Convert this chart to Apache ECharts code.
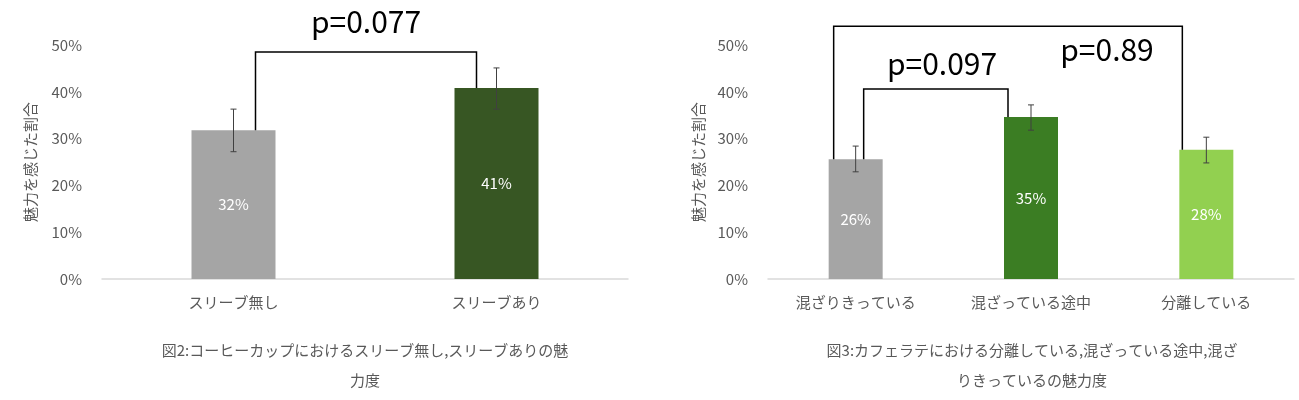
<!DOCTYPE html><html><head><meta charset="utf-8">
<script src="https://cdn.jsdelivr.net/npm/echarts@6/dist/echarts.min.js"></script>
<style>body{margin:0;background:#fff}#c{width:1299px;height:400px}</style></head><body><div id="c"></div>
<script>
const cats1=['スリーブ無し','スリーブあり'];
const vals1=[31.8,40.8];
const errLo1=[27.2,36.3], errHi1=[36.3,45.1];
const cats2=['混ざりきっている','混ざっている途中','分離している'];
const vals2=[25.6,34.6,27.6];
const errLo2=[22.9,31.8,24.8], errHi2=[28.4,37.2,30.3];
const yTicks=[0,10,20,30,40,50];
// brackets: [gridIdx, catA, catB, topValue, text]
const brackets=[[0,0,1,48.5,'p=0.077'],[1,0,2,54,'p=0.89'],[1,0,1,40.6,'p=0.097']];
const F='"Noto Sans CJK JP","Noto Sans",sans-serif';
const gray='#595959';
const chart=echarts.init(document.getElementById('c'));
function errSeries(xi,lo,hi){return {type:'custom',xAxisIndex:xi,yAxisIndex:xi,silent:true,z:5,
 data:lo.map((l,i)=>[i,l,hi[i]]),
 renderItem:(p,api)=>{const a=api.coord([api.value(0),api.value(1)]),b=api.coord([api.value(0),api.value(2)]);
  const s={stroke:'#404040',lineWidth:1};
  return {type:'group',children:[{type:'line',shape:{x1:a[0],y1:a[1],x2:b[0],y2:b[1]},style:s},
  {type:'line',shape:{x1:a[0]-3,y1:a[1],x2:a[0]+3,y2:a[1]},style:s},
  {type:'line',shape:{x1:b[0]-3,y1:b[1],x2:b[0]+3,y2:b[1]},style:s}]};}};}
const yAx=i=>({type:'value',gridIndex:i,min:0,max:50,interval:10,splitLine:{show:false},
 axisLabel:{formatter:v=>v+'%',color:gray,fontSize:15,fontFamily:F,margin:20},
 name:'魅力を感じた割合',nameLocation:'middle',nameRotate:90,nameGap:i?62:64,nameTextStyle:{color:gray,fontSize:15,fontFamily:F}});
const xAx=(i,c)=>({type:'category',gridIndex:i,data:c,axisTick:{show:false},axisLine:{lineStyle:{color:'#D9D9D9',width:1.5}},
 axisLabel:{color:gray,fontSize:15,fontFamily:F,margin:16}});
const lbl={show:true,position:'inside',color:'#fff',fontSize:15,fontFamily:F,formatter:p=>Math.round(p.value)+'%'};
chart.setOption({animation:false,
 grid:[{left:102,width:526,top:45,bottom:121},{left:768,width:526,top:45,bottom:121}],
 xAxis:[xAx(0,cats1),xAx(1,cats2)],yAxis:[yAx(0),yAx(1)],
 series:[
  {type:'bar',xAxisIndex:0,yAxisIndex:0,barWidth:84,label:lbl,
   data:vals1.map((v,i)=>({value:v,itemStyle:{color:['#A5A5A5','#375623'][i]}}))},
  {type:'bar',xAxisIndex:1,yAxisIndex:1,barWidth:54,label:lbl,
   data:vals2.map((v,i)=>({value:v,itemStyle:{color:['#A5A5A5','#3B7D23','#92D050'][i]}}))},
  errSeries(0,errLo1,errHi1),errSeries(1,errLo2,errHi2)]});
const els=[];
const offs={'0,0':[22,0],'0,1':[-20,0],'1,0':[-22,0],'1,2':[-24,0],'1,1':[-23,0]};
brackets.forEach(([g,a,b,top,t],k)=>{
 const vals=g?vals2:vals1;
 const inner=k===2;
 const xa=chart.convertToPixel({gridIndex:g},[a,0])[0]+(g===0?22:(inner?8:-22));
 const xb=chart.convertToPixel({gridIndex:g},[b,0])[0]+(g===0?-20:(inner?-23:-24));
 const yt=chart.convertToPixel({gridIndex:g},[0,top])[1];
 const ya=chart.convertToPixel({gridIndex:g},[0,vals[a]])[1];
 const yb=chart.convertToPixel({gridIndex:g},[0,vals[b]])[1];
 els.push({type:'polyline',shape:{points:[[xa,ya],[xa,yt],[xb,yt],[xb,yb]]},style:{stroke:'#000',lineWidth:1.5,fill:null},z:10});
 let tx=(xa+xb)/2, ty=yt-30;
 if(g===1&&!inner){tx=1107;ty=50;}
 if(inner){tx=942;ty=64;}
 els.push({type:'text',x:tx,y:ty,style:{text:t,font:'30px '+F,fill:'#000',align:'center',verticalAlign:'middle'},z:10});
});
els.push({type:'text',x:365,y:350,style:{text:'図2:コーヒーカップにおけるスリーブ無し,スリーブありの魅\n力度',font:'15px '+F,fill:gray,align:'center',verticalAlign:'middle',lineHeight:30}});
els.push({type:'text',x:1032,y:350,style:{text:'図3:カフェラテにおける分離している,混ざっている途中,混ざ\nりきっているの魅力度',font:'15px '+F,fill:gray,align:'center',verticalAlign:'middle',lineHeight:30}});
els.forEach((e,i)=>{if(e.type==='text'&&e.style.lineHeight)e.y=365;});
chart.setOption({graphic:els});
</script></body></html>
